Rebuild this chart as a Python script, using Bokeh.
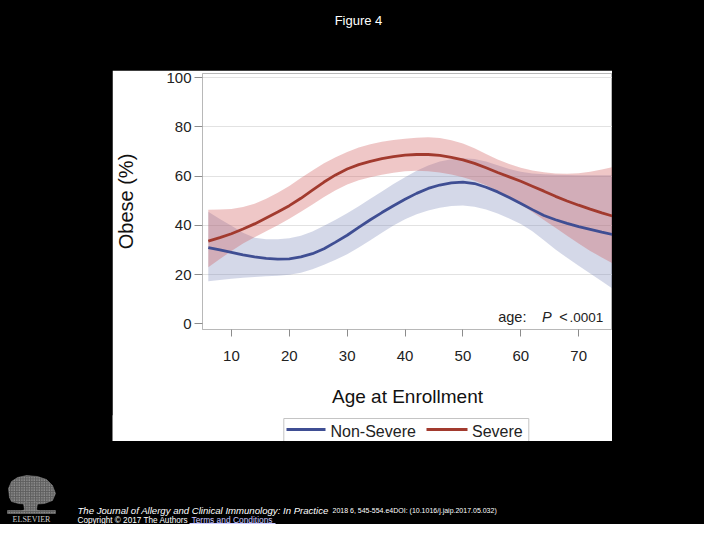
from bokeh.plotting import figure
from bokeh.models import Range1d, Label, FixedTicker, Spacer, ColumnDataSource
from bokeh.layouts import column, row
from bokeh.embed import file_html
from bokeh.resources import INLINE
from bokeh.core.properties import value

FONT = "Liberation Sans"

# ---------------- data ----------------
age = [6, 8, 10, 12, 14, 16, 18, 20, 22, 24, 26, 28, 30, 32, 34, 36, 38, 40,
       42, 44, 46, 48, 50, 52, 54, 56, 58, 60, 62, 64, 66, 68, 70, 72, 74, 75.85]

nonsevere = [31.0, 30.0, 29.0, 28.0, 27.2, 26.6, 26.3, 26.4, 27.2, 28.5, 30.5, 33.2,
             36.0, 39.2, 42.3, 45.2, 48.0, 50.6, 53.0, 55.0, 56.4, 57.3, 57.6, 57.0,
             55.5, 53.6, 51.3, 48.9, 46.4, 44.0, 42.3, 40.8, 39.5, 38.4, 37.3, 36.3]
nonsevere_lo = [17.3, 17.8, 18.3, 18.7, 19.0, 19.3, 19.5, 19.9, 20.8, 22.2, 24.0, 26.0,
                28.3, 31.0, 34.0, 37.0, 40.0, 42.5, 44.5, 46.0, 47.2, 47.9, 48.1, 47.6,
                46.4, 44.8, 42.8, 40.6, 37.6, 34.0, 30.2, 26.8, 23.6, 20.4, 17.3, 14.3]
nonsevere_hi = [45.5, 42.6, 39.8, 37.0, 35.0, 34.4, 34.4, 34.8, 35.8, 37.5, 39.8, 42.3,
                44.9, 47.8, 50.8, 53.8, 56.8, 59.6, 62.2, 64.3, 65.9, 66.9, 67.3, 67.0,
                65.9, 64.4, 62.9, 61.8, 61.1, 60.8, 60.6, 60.5, 60.4, 60.4, 60.4, 60.4]

severe = [33.6, 35.0, 36.6, 38.5, 40.6, 43.0, 45.4, 48.0, 51.0, 54.3, 57.6, 60.5,
          62.9, 64.7, 66.0, 67.1, 67.9, 68.5, 68.8, 68.8, 68.4, 67.6, 66.6, 65.2,
          63.4, 61.5, 59.7, 57.9, 55.9, 53.9, 51.8, 49.9, 48.2, 46.6, 45.1, 43.8]
severe_lo = [23.0, 26.3, 29.6, 32.6, 35.2, 37.6, 40.1, 42.7, 45.5, 48.5, 51.5, 54.3,
             56.6, 58.3, 59.6, 60.6, 61.4, 62.0, 62.2, 62.0, 61.5, 60.7, 59.6, 58.1,
             56.3, 54.0, 51.4, 48.5, 45.4, 42.2, 39.0, 35.8, 32.6, 29.6, 27.0, 24.6]
severe_hi = [46.3, 46.4, 46.7, 47.5, 48.8, 50.8, 53.3, 56.0, 59.2, 62.3, 65.2, 67.7,
             69.8, 71.6, 73.0, 74.0, 74.7, 75.2, 75.6, 75.8, 75.5, 74.6, 73.3, 71.3,
             69.0, 66.8, 64.9, 63.4, 62.3, 61.6, 61.1, 61.0, 61.2, 61.8, 62.7, 63.7]

series_names = ["Non-Severe", "Severe"]
x_ticks = [10, 20, 30, 40, 50, 60, 70]
y_ticks = [0, 20, 40, 60, 80, 100]
y_grid = [20, 40, 60, 80, 100]

src = ColumnDataSource(dict(age=age, ns=nonsevere, ns_lo=nonsevere_lo, ns_hi=nonsevere_hi,
                            sv=severe, sv_lo=severe_lo, sv_hi=severe_hi))

BLUE = "#3F4E93"
RED = "#A23A2E"
series_colors = [BLUE, RED]

# ---------------- main chart ----------------
p = figure(width=500, height=346, x_range=Range1d(5.0, 75.85), y_range=Range1d(-2.3, 101.7),
           output_backend="svg", toolbar_location=None,
           min_border_left=87, min_border_right=0, min_border_top=3, min_border_bottom=87)
p.background_fill_color = "white"
p.border_fill_color = "white"
p.outline_line_color = "#b8b8b8"
p.outline_line_width = 1

p.varea(x="age", y1="ns_lo", y2="ns_hi", source=src, fill_color="#6F7EB3", fill_alpha=0.3)
p.varea(x="age", y1="sv_lo", y2="sv_hi", source=src, fill_color="#D05B5B", fill_alpha=0.34)
p.line("age", "ns", source=src, line_color=BLUE, line_width=2.8)
p.line("age", "sv", source=src, line_color=RED, line_width=2.8)

p.xgrid.visible = False
p.ygrid.ticker = FixedTicker(ticks=y_grid)
p.ygrid.grid_line_color = "#e2e2e2"

for ax in (p.xaxis[0], p.yaxis[0]):
    ax.axis_line_color = None
    ax.major_tick_line_color = "#8c8c8c"
    ax.minor_tick_line_color = None
    ax.major_tick_in = 0
    ax.major_label_text_font = FONT
    ax.major_label_text_font_size = "15px"
    ax.major_label_text_color = "#222222"
    ax.axis_label_text_font = FONT
    ax.axis_label_text_font_style = "normal"
    ax.axis_label_text_color = "#111111"

p.xaxis.ticker = FixedTicker(ticks=x_ticks)
p.yaxis.ticker = FixedTicker(ticks=y_ticks)
p.xaxis.axis_label = "Age at Enrollment"
p.yaxis.axis_label = "Obese (%)"
p.xaxis.axis_label_text_font_size = "19px"
p.yaxis.axis_label_text_font_size = "20px"
p.xaxis.major_tick_out = 7
p.xaxis.major_label_standoff = 14
p.xaxis.axis_label_standoff = 22
p.yaxis.major_tick_out = 8
p.yaxis.major_label_standoff = 3
p.yaxis.axis_label_standoff = 26

# annotation  "age: P < .0001"
for tx, xx, align, size, style in (("age:", 56.1, "left", "14.5px", "normal"),
                                   ("P", 63.65, "left", "14.5px", "italic"),
                                   ("<", 66.65, "left", "14.5px", "normal"),
                                   (".0001", 74.26, "right", "13.5px", "normal")):
    p.add_layout(Label(x=xx, y=2.7, text=tx, text_baseline="middle", text_align=align,
                       text_font=FONT, text_font_size=size, text_font_style=style,
                       text_color="#222222"))

# ---------------- legend strip (below the chart, same white panel) ----------------
q = figure(width=500, height=26, x_range=Range1d(112, 612), y_range=Range1d(441, 415),
           x_axis_type=None, y_axis_type=None, output_backend="svg",
           toolbar_location=None, min_border=0)
q.background_fill_color = "white"
q.border_fill_color = "white"
q.outline_line_color = None
q.quad(left=[283.3], right=[528.3], top=[418], bottom=[447], fill_color="white",
       line_color="#c4c4c4", line_width=1)
q.segment(x0=[286, 426], y0=[429, 429], x1=[325, 467], y1=[429, 429],
          line_color=series_colors, line_width=3)
q.text(x=[330, 471.5], y=[431, 431], text=series_names, text_baseline="middle",
       text_align="left", text_font=value(FONT), text_font_size="16px", text_color="#222222")

# ---------------- title strip ----------------
t = figure(width=704, height=70, x_range=Range1d(0, 704), y_range=Range1d(70, 0),
           x_axis_type=None, y_axis_type=None, output_backend="svg",
           toolbar_location=None, min_border=0)
t.background_fill_color = "black"
t.border_fill_color = "black"
t.outline_line_color = None
t.add_layout(Label(x=358, y=20, text="Figure 4", text_align="center", text_baseline="middle",
                   text_font=FONT, text_font_size="13px", text_color="white"))

# ---------------- footer strip ----------------
f = figure(width=704, height=83, x_range=Range1d(0, 704), y_range=Range1d(524, 441),
           x_axis_type=None, y_axis_type=None, output_backend="svg",
           toolbar_location=None, min_border=0)
f.background_fill_color = "black"
f.border_fill_color = "black"
f.outline_line_color = None

logo_xs = [[9, 8, 11, 17, 26, 37, 46, 52, 55, 52, 44, 31, 18, 11],
           [23, 27, 33, 37, 36, 41, 19, 24],
           [7, 55, 55, 7]]
logo_ys = [[497, 488, 481, 477, 475, 476, 479, 485, 493, 500, 503, 504, 503, 501],
           [503, 500, 500, 503, 509, 512, 512, 509],
           [510, 510, 513, 513]]
f.patches(logo_xs, logo_ys, fill_color="#5e5e5e", line_color="#8a8a8a", line_width=0.5,
          hatch_pattern="dot", hatch_color="#bdbdbd", hatch_scale=2.5, hatch_weight=1)
f.add_layout(Label(x=31, y=518.5, text="ELSEVIER", text_align="center", text_baseline="middle",
                   text_font="Liberation Serif", text_font_size="8px", text_color="#d0d0d0"))

f.add_layout(Label(x=77, y=510, text="The Journal of Allergy and Clinical Immunology: In Practice",
                   text_baseline="middle", text_font=FONT, text_font_size="9.6px",
                   text_font_style="italic", text_color="white"))
f.add_layout(Label(x=332, y=510, text="2018 6, 545-554.e4DOI: (10.1016/j.jaip.2017.05.032)",
                   text_baseline="middle", text_font=FONT, text_font_size="7px",
                   text_color="white"))
f.add_layout(Label(x=77, y=519.5, text="Copyright \u00a9 2017 The Authors",
                   text_baseline="middle", text_font=FONT, text_font_size="8.2px",
                   text_color="white"))
f.add_layout(Label(x=191, y=519.5, text="Terms and Conditions",
                   text_baseline="middle", text_font=FONT, text_font_size="8.4px",
                   text_color="#c8c8ff"))
f.segment(x0=[189], y0=[523], x1=[275], y1=[523], line_color="#c8c8ff", line_width=1)

row_chart = row(Spacer(width=112, height=346, styles={"background-color": "#000000"}), p,
                Spacer(width=92, height=346, styles={"background-color": "#000000"}))
row_legend = row(Spacer(width=112, height=26, styles={"background-color": "#000000"}), q,
                 Spacer(width=92, height=26, styles={"background-color": "#000000"}),
                 margin=(-1, 0, 0, 0))
layout = column(t, row_chart, row_legend, f, styles={"background-color": "#000000"})

html = file_html(layout, INLINE, title="Figure 4")
html = html.replace("<body>", '<body style="background-color:#000000;">', 1)
open("out.html", "w").write(html)
